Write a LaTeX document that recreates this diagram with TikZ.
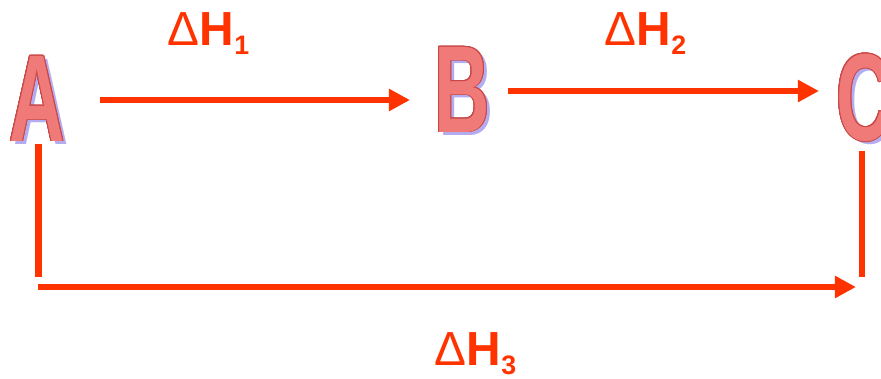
\documentclass[tikz,border=0pt]{standalone}
\usepackage{fontspec}
\setmainfont{Liberation Sans}
\usepackage[copies]{contour}
\usetikzlibrary{arrows.meta}
\definecolor{flowred}{HTML}{FF3300}
\definecolor{letterpink}{HTML}{F07A78}
\definecolor{letterrim}{HTML}{C84848}
\definecolor{lettershade}{HTML}{B4ACF0}
\contourlength{0.6pt}
\newcommand{\bigletter}[1]{\scalebox{0.62}[1]{\fontsize{88}{88}\selectfont\bfseries #1}}
\newcommand{\enthalpy}[1]{{\fontsize{34}{34}\selectfont Δ\textbf{H}\raisebox{-7pt}{\fontsize{19}{19}\selectfont\textbf{#1}}}}

\begin{document}
\begin{tikzpicture}[x=0.025cm,y=-0.025cm,>={Triangle[length=5.3mm,width=5.3mm]}]
\useasboundingbox (0,0) rectangle (881,378);
\tikzset{flow/.style={draw=flowred,line width=4.3pt},
shade/.style={text=lettershade,inner sep=0pt},
letter/.style={text=letterpink,inner sep=0pt}}
% letters with shadow
\node[shade] at (41,102) {\bigletter{A}};
\node[letter] (A) at (37,99) {\contour{letterrim}{\bigletter{A}}};
\node[shade] at (466,93) {\bigletter{B}};
\node[letter] (B) at (462,90) {\contour{letterrim}{\bigletter{B}}};
\node[shade] at (868,101) {\bigletter{C}};
\node[letter] (C) at (864,98) {\contour{letterrim}{\bigletter{C}}};
% labels
\node[text=flowred,anchor=base west] (dh1) at (163,45) {\enthalpy{1}};
\node[text=flowred,anchor=base west] (dh2) at (600,45) {\enthalpy{2}};
\node[text=flowred,anchor=base west] (dh3) at (430,365) {\enthalpy{3}};
% arrows
\coordinate (s1) at (100,100);
\coordinate (e1) at (410,100);
\coordinate (s2) at (508,91);
\coordinate (e2) at (819,91);
\coordinate (a0) at (38.5,277);
\coordinate (s3) at (38,287);
\coordinate (e3) at (856,287);
\coordinate (c0) at (862,277);
\draw[flow,->](s1)--(e1);
\draw[flow,->](s2)--(e2);
\draw[flow](A.south)++(1.5,2)--(a0);
\draw[flow,->](s3)--(e3);
\draw[flow](C.south)++(-2,8)--(c0);
\end{tikzpicture}
\end{document}
